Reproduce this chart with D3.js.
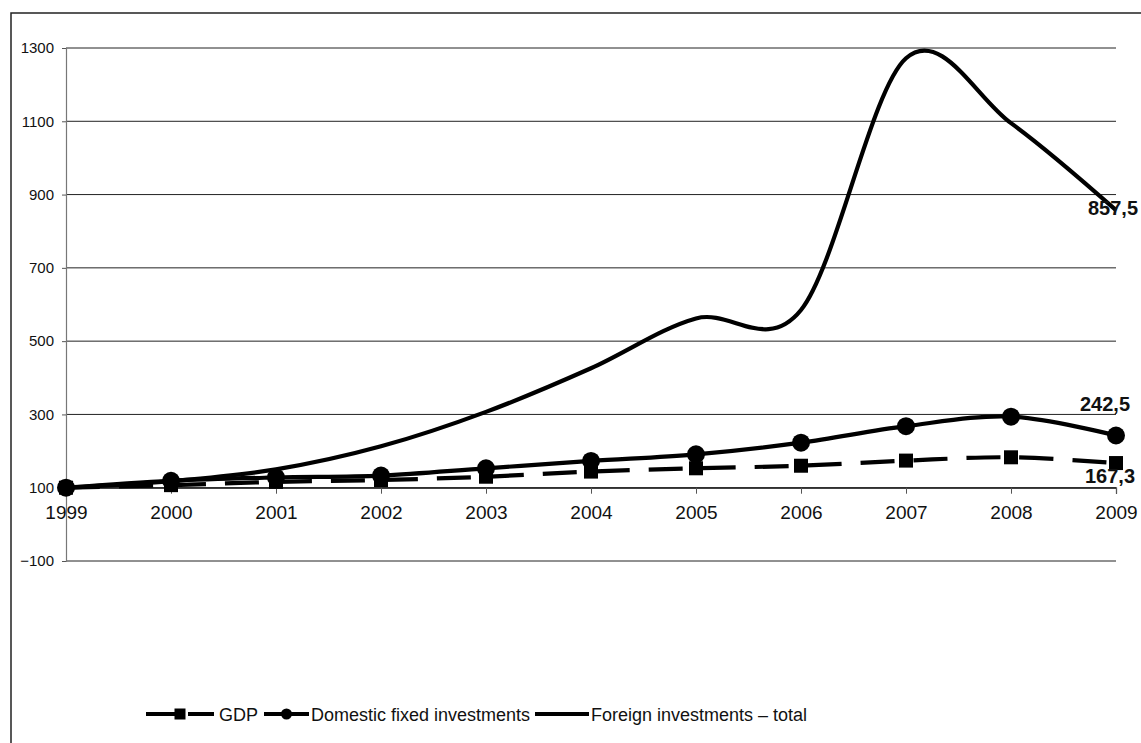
<!DOCTYPE html>
<html>
<head>
<meta charset="utf-8">
<script src="https://cdn.jsdelivr.net/npm/d3@7"></script>
<style>
  html, body { margin: 0; padding: 0; background: #fff; }
  svg { display: block; font-family: "Liberation Sans", Arial, sans-serif; }
</style>
</head>
<body>
<svg id="chart" width="1141" height="743"></svg>
<script>
// Index values, 1999 = 100
const years = [1999, 2000, 2001, 2002, 2003, 2004, 2005, 2006, 2007, 2008, 2009];
const gdp = [100, 107, 116, 121, 130, 144, 153, 160, 174, 183, 167.3];
const domestic = [100, 119, 128, 133, 153, 173, 191, 223, 268, 294, 242.5];
const foreign = [100, 118, 150, 213, 307, 426, 562, 585, 1272, 1095, 857.5];
const yTicks = [-100, 100, 300, 500, 700, 900, 1100, 1300];
const seriesNames = ["GDP", "Domestic fixed investments", "Foreign investments \u2013 total"];

const svg = d3.select("#chart");

// outer chart frame (runs off the right and bottom edges)
svg.append("rect")
  .attr("x", 11).attr("y", 13)
  .attr("width", 1200).attr("height", 800)
  .attr("fill", "none").attr("stroke", "#222").attr("stroke-width", 1.5);

const x = d3.scalePoint().domain(years).range([66, 1116]);
const y = d3.scaleLinear().domain([-100, 1300]).range([561, 48]);

// horizontal gridlines
svg.append("g")
  .selectAll("line")
  .data(yTicks)
  .join("line")
  .attr("x1", 66).attr("x2", 1116)
  .attr("y1", d => y(d)).attr("y2", d => y(d))
  .attr("stroke", "#222").attr("stroke-width", 1);

// value axis
const yAxis = svg.append("g")
  .attr("transform", "translate(66,0)")
  .call(d3.axisLeft(y).tickValues(yTicks).tickSize(4).tickPadding(8).tickFormat(d3.format("d")));
yAxis.select(".domain").attr("stroke", "#777").attr("stroke-width", 1.2);
yAxis.selectAll(".tick line").attr("stroke", "#555");
yAxis.selectAll(".tick text")
  .attr("font-size", 15).attr("fill", "#111")
  .attr("font-family", "Liberation Sans, Arial, sans-serif");

// category axis crossing at 100
const xAxis = svg.append("g")
  .attr("transform", `translate(0,${y(100)})`)
  .call(d3.axisBottom(x).tickSize(6).tickPadding(12).tickFormat(d3.format("d")));
xAxis.select(".domain").attr("stroke", "#111").attr("stroke-width", 1.2);
xAxis.selectAll(".tick line").attr("stroke", "#555");
xAxis.selectAll(".tick text")
  .attr("font-size", 19).attr("fill", "#111")
  .attr("font-family", "Liberation Sans, Arial, sans-serif");

// smoothed series lines
const line = d3.line()
  .x((d, i) => x(years[i]))
  .y(d => y(d))
  .curve(d3.curveCardinal.tension(0));

const dash = "34 19";

svg.append("path").datum(foreign)
  .attr("d", line).attr("fill", "none")
  .attr("stroke", "#000").attr("stroke-width", 4.2);

svg.append("path").datum(domestic)
  .attr("d", line).attr("fill", "none")
  .attr("stroke", "#000").attr("stroke-width", 4.2);

svg.append("path").datum(gdp)
  .attr("d", line).attr("fill", "none")
  .attr("stroke", "#000").attr("stroke-width", 4.2)
  .attr("stroke-dasharray", dash);

// markers
svg.append("g").selectAll("rect")
  .data(gdp)
  .join("rect")
  .attr("x", (d, i) => x(years[i]) - 7)
  .attr("y", d => y(d) - 7)
  .attr("width", 14).attr("height", 14)
  .attr("fill", "#000");

svg.append("g").selectAll("circle")
  .data(domestic)
  .join("circle")
  .attr("cx", (d, i) => x(years[i]))
  .attr("cy", d => y(d))
  .attr("r", 9)
  .attr("fill", "#000");

// end-point value labels
const fmt = d3.formatLocale({ decimal: ",", thousands: " ", grouping: [3], currency: ["", ""] }).format(".1f");
const last = years.length - 1;
const endLabels = [
  { v: foreign[last], dx: -3, dy: 5 },
  { v: domestic[last], dx: -11, dy: -24 },
  { v: gdp[last], dx: -6, dy: 20 }
];
svg.append("g").selectAll("text")
  .data(endLabels)
  .join("text")
  .attr("x", d => x(years[last]) + d.dx)
  .attr("y", d => y(d.v) + d.dy)
  .attr("text-anchor", "middle")
  .attr("font-size", 20).attr("font-weight", "bold").attr("fill", "#111")
  .text(d => fmt(d.v));

// legend
const legendY = 714;
const legendItems = [
  { name: seriesNames[0], x0: 146, x1: 214, textX: 219, marker: "square", dashed: true },
  { name: seriesNames[1], x0: 264, x1: 309, textX: 311, marker: "circle", dashed: false },
  { name: seriesNames[2], x0: 535, x1: 589, textX: 591, marker: "none", dashed: false }
];
const lg = svg.append("g");
legendItems.forEach(it => {
  lg.append("line")
    .attr("x1", it.x0).attr("x2", it.x1)
    .attr("y1", legendY).attr("y2", legendY)
    .attr("stroke", "#000").attr("stroke-width", 4)
    .attr("stroke-dasharray", it.dashed ? "30 12" : null);
  const cx = (it.x0 + it.x1) / 2;
  if (it.marker === "square") {
    lg.append("rect").attr("x", cx - 5.5).attr("y", legendY - 5.5)
      .attr("width", 11).attr("height", 11).attr("fill", "#000");
  } else if (it.marker === "circle") {
    lg.append("circle").attr("cx", cx).attr("cy", legendY).attr("r", 5.5).attr("fill", "#000");
  }
  lg.append("text")
    .attr("x", it.textX).attr("y", legendY + 7)
    .attr("font-size", 18).attr("fill", "#111")
    .text(it.name);
});
</script>
</body>
</html>
